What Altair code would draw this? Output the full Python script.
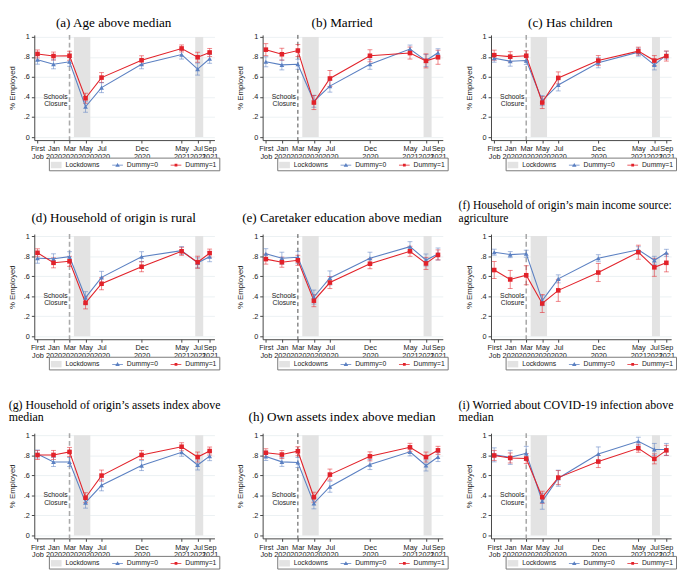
import json
import altair as alt
import pandas as pd

# ---------------- data ----------------
months = [-2, 0, 2, 4, 6, 11, 16, 18, 19.5]
month_labels = ["First Job", "Jan 2020", "Mar 2020", "May 2020", "Jul 2020",
                "Dec 2020", "May 2021", "Jul 2021", "Sep 2021"]
lock_start = [2.55, 17.7]
lock_end = [4.6, 18.7]
closure_month = [2]
closure_label = ["Schools\nClosure"]
closure_y = [0.40]

titles = [
    ["(a) Age above median"],
    ["(b) Married"],
    ["(c) Has children"],
    ["(d) Household of origin is rural"],
    ["(e) Caretaker education above median"],
    ["(f) Household of origin’s main income source:", "agriculture"],
    ["(g) Household of origin’s assets index above", "median"],
    ["(h) Own assets index above median"],
    ["(i) Worried about COVID-19 infection above", "median"],
]

a_d0 = [0.773, 0.727, 0.752, 0.303, 0.494, 0.727, 0.824, 0.679, 0.782]
a_d1 = [0.830, 0.809, 0.812, 0.388, 0.594, 0.767, 0.885, 0.797, 0.845]
a_ci0 = [0.045, 0.045, 0.045, 0.055, 0.05, 0.045, 0.045, 0.06, 0.045]
a_ci1 = [0.04, 0.04, 0.045, 0.05, 0.05, 0.045, 0.035, 0.05, 0.04]

b_d0 = [0.752, 0.721, 0.727, 0.358, 0.509, 0.727, 0.879, 0.764, 0.842]
b_d1 = [0.873, 0.827, 0.864, 0.345, 0.585, 0.812, 0.839, 0.761, 0.797]
b_ci0 = [0.05, 0.05, 0.05, 0.06, 0.06, 0.05, 0.04, 0.06, 0.04]
b_ci1 = [0.06, 0.06, 0.06, 0.07, 0.08, 0.06, 0.06, 0.07, 0.07]

c_d0 = [0.788, 0.758, 0.764, 0.364, 0.521, 0.742, 0.848, 0.721, 0.818]
c_d1 = [0.818, 0.803, 0.812, 0.345, 0.591, 0.764, 0.858, 0.764, 0.809]
c_ci0 = [0.04, 0.05, 0.04, 0.05, 0.06, 0.05, 0.04, 0.05, 0.04]
c_ci1 = [0.05, 0.05, 0.05, 0.06, 0.06, 0.05, 0.04, 0.05, 0.05]

d_d0 = [0.779, 0.773, 0.794, 0.385, 0.588, 0.794, 0.855, 0.733, 0.794]
d_d1 = [0.833, 0.733, 0.748, 0.333, 0.524, 0.694, 0.848, 0.739, 0.830]
d_ci0 = [0.05, 0.05, 0.05, 0.06, 0.06, 0.05, 0.04, 0.05, 0.05]
d_ci1 = [0.04, 0.05, 0.05, 0.06, 0.06, 0.05, 0.04, 0.06, 0.04]

e_d0 = [0.824, 0.779, 0.788, 0.391, 0.582, 0.779, 0.894, 0.761, 0.821]
e_d1 = [0.770, 0.739, 0.758, 0.355, 0.536, 0.724, 0.848, 0.727, 0.812]
e_ci0 = [0.05, 0.06, 0.06, 0.07, 0.07, 0.06, 0.05, 0.06, 0.06]
e_ci1 = [0.05, 0.05, 0.05, 0.06, 0.06, 0.05, 0.05, 0.06, 0.05]

f_d0 = [0.839, 0.815, 0.824, 0.355, 0.573, 0.779, 0.864, 0.758, 0.833]
f_d1 = [0.661, 0.567, 0.609, 0.327, 0.458, 0.636, 0.839, 0.688, 0.733]
f_ci0 = [0.03, 0.03, 0.035, 0.05, 0.04, 0.035, 0.03, 0.04, 0.035]
f_ci1 = [0.085, 0.09, 0.095, 0.09, 0.11, 0.09, 0.07, 0.09, 0.09]

g_d0 = [0.812, 0.733, 0.733, 0.327, 0.500, 0.697, 0.830, 0.703, 0.791]
g_d1 = [0.803, 0.803, 0.833, 0.376, 0.597, 0.803, 0.885, 0.782, 0.842]
g_ci0 = [0.04, 0.045, 0.045, 0.055, 0.055, 0.05, 0.04, 0.05, 0.045]
g_ci1 = [0.045, 0.045, 0.045, 0.05, 0.055, 0.045, 0.04, 0.05, 0.04]

h_d0 = [0.788, 0.734, 0.728, 0.320, 0.486, 0.707, 0.834, 0.698, 0.782]
h_d1 = [0.825, 0.807, 0.840, 0.381, 0.607, 0.789, 0.879, 0.782, 0.849]
h_ci0 = [0.04, 0.045, 0.05, 0.055, 0.055, 0.05, 0.04, 0.055, 0.045]
h_ci1 = [0.04, 0.04, 0.045, 0.05, 0.055, 0.045, 0.04, 0.05, 0.04]

i_d0 = [0.804, 0.779, 0.819, 0.341, 0.571, 0.813, 0.940, 0.858, 0.858]
i_d1 = [0.798, 0.773, 0.767, 0.381, 0.577, 0.737, 0.870, 0.764, 0.849]
i_ci0 = [0.07, 0.07, 0.07, 0.08, 0.08, 0.07, 0.04, 0.06, 0.06]
i_ci1 = [0.05, 0.05, 0.05, 0.06, 0.07, 0.06, 0.04, 0.05, 0.05]

panels = [
    (a_d0, a_d1, a_ci0, a_ci1),
    (b_d0, b_d1, b_ci0, b_ci1),
    (c_d0, c_d1, c_ci0, c_ci1),
    (d_d0, d_d1, d_ci0, d_ci1),
    (e_d0, e_d1, e_ci0, e_ci1),
    (f_d0, f_d1, f_ci0, f_ci1),
    (g_d0, g_d1, g_ci0, g_ci1),
    (h_d0, h_d1, h_ci0, h_ci1),
    (i_d0, i_d1, i_ci0, i_ci1),
]
dark_closure_line = [False, True, False, False, True, False, False, True, False]
title_sizes = [13.5, 13.5, 13.5, 13.5, 13.5, 11.8, 12.2, 13.5, 12.2]

# ---------------- style ----------------
BLUE = "#5b80c2"
RED = "#e2222a"
GRAY = "#e3e3e3"
SANS = "Liberation Sans"
SERIF = "Liberation Serif"
W, H = 185, 108

label_expr = ""
for m, lab in zip(months, month_labels):
    label_expr += f"datum.value == {m} ? {json.dumps(lab.split(' '))} : "
label_expr += "''"

legend_domain = ["Lockdowns", "Dummy=0", "Dummy=1"]
xscale = alt.Scale(domain=[-2.4, 20.1], nice=False, zero=False)
yscale = alt.Scale(domain=[-0.03, 1.02], nice=False, zero=False)
cscale = alt.Scale(domain=legend_domain, range=[GRAY, BLUE, RED])
# legend keys: grey box; line with triangle; line with square
sscale = alt.Scale(domain=legend_domain, range=[
    "M-1,-0.6H1V0.6H-1Z",
    "M-1,-0.07H1V0.07H-1Z M0,-0.42L0.42,0.3H-0.42Z",
    "M-1,-0.07H1V0.07H-1Z M-0.26,-0.26H0.26V0.26H-0.26Z",
])

xaxis = alt.Axis(values=months, labelExpr=label_expr, title=None, grid=False,
                 labelOverlap=False, labelFlush=False, labelFont=SANS, labelFontSize=7.5,
                 labelColor="#222", labelLineHeight=8, labelPadding=2, tickSize=3,
                 domainColor="#444", tickColor="#444")
yaxis = alt.Axis(values=[0, 0.2, 0.4, 0.6, 0.8, 1],
                 labelExpr="datum.value == 0 ? '0' : datum.value == 1 ? '1' : replace(format(datum.value, '.1f'), '0.', '.')",
                 title="% Employed", titleFont=SANS, titleFontSize=8, titleFontWeight="normal",
                 titleColor="#222", titlePadding=7, labelFont=SANS, labelFontSize=7.5,
                 labelColor="#222", labelPadding=2, tickSize=3, grid=True,
                 gridColor="#e6edef", gridWidth=0.8, domainColor="#444", tickColor="#444")
legend = alt.Legend(orient="none", legendX=15, legendY=126, direction="horizontal",
                    title=None, columns=3, columnPadding=12, symbolSize=121,
                    symbolOpacity=1, labelFont=SANS, labelFontSize=7, labelColor="#222",
                    labelOffset=4, padding=2, strokeColor="#777", fillColor="white",
                    symbolStrokeWidth=0)

lock_df = pd.DataFrame({"start": lock_start, "end": lock_end,
                        "bottom": [0, 0], "top": [1, 1], "series": ["Lockdowns"] * 2})
closure_df = pd.DataFrame({"x": closure_month, "y": closure_y, "label": closure_label})


def make_panel(k):
    d0, d1, c0, c1 = panels[k]
    rows = []
    for name, vals, cis in (("Dummy=0", d0, c0), ("Dummy=1", d1, c1)):
        for m, v, c in zip(months, vals, cis):
            rows.append({"month": m, "series": name, "value": v,
                         "lo": v - c, "hi": v + c})
    df = pd.DataFrame(rows)

    X = lambda f: alt.X(f, type="quantitative", scale=xscale, axis=xaxis, title=None)
    Y = lambda f: alt.Y(f, type="quantitative", scale=yscale, axis=yaxis, title="% Employed")
    C = alt.Color("series:N", scale=cscale, legend=legend)

    rect = alt.Chart(lock_df).mark_rect(color=GRAY).encode(
        x=X("start"), x2="end", y=Y("bottom"), y2="top", color=C,
    )
    dark = dark_closure_line[k]
    vline = alt.Chart(closure_df).mark_rule(
        color="#333" if dark else "#aaaaaa",
        strokeDash=[4, 3] if dark else [5, 3],
        strokeWidth=0.9 if dark else 1.6,
    ).encode(x=X("x"))
    ann = alt.Chart(closure_df).mark_text(
        align="right", baseline="middle", dx=-2, lineBreak="\n",
        font=SANS, fontSize=7, color="#222", lineHeight=7.5,
    ).encode(x=X("x"), y=Y("y"), text="label:N")

    err = alt.Chart(df).mark_errorbar(ticks=alt.MarkConfig(size=5), thickness=1, opacity=0.55).encode(
        x=X("month"), y=Y("lo"), y2="hi", color=C,
    )
    line = alt.Chart(df).mark_line(strokeWidth=1.1).encode(
        x=X("month"), y=Y("value"), color=C, order="month:Q",
    )
    # legend-key carrier (invisible)
    key = alt.Chart(df).mark_point(filled=True, opacity=0, size=1).encode(
        x=X("month"), y=Y("value"), color=C,
        shape=alt.Shape("series:N", scale=sscale, legend=legend),
    )
    pts0 = alt.Chart(df).transform_filter(alt.datum.series == "Dummy=0").mark_point(
        filled=True, size=24, opacity=1, shape="triangle-up").encode(
        x=X("month"), y=Y("value"), color=C)
    pts1 = alt.Chart(df).transform_filter(alt.datum.series == "Dummy=1").mark_point(
        filled=True, size=22, opacity=1, shape="square").encode(
        x=X("month"), y=Y("value"), color=C)

    t = titles[k]
    multi = len(t) > 1
    col = k % 3
    off = 4 if k < 3 else 8
    if multi:
        title = alt.TitleParams(
            text=t, font=SERIF, fontSize=title_sizes[k], fontWeight="normal",
            color="black", anchor="start", offset=off, lineHeight=13,
            dx=-7 if col > 0 else 0,
        )
    else:
        title = alt.TitleParams(
            text=t[0], font=SERIF, fontSize=title_sizes[k], fontWeight="normal",
            color="black", anchor="middle", offset=off, dx=-11,
        )
    return alt.layer(rect, vline, ann, err, line, key, pts0, pts1).properties(
        width=W, height=H, title=title)


chart = alt.concat(*[make_panel(k) for k in range(9)], columns=3,
                   spacing={"row": 96.5, "column": 49.5}, bounds="flush",
                   padding=0).resolve_scale(
    color="independent", shape="independent"
).configure_view(stroke=None)

chart.save("out.html", embed_options={"renderer": "svg", "actions": False})
